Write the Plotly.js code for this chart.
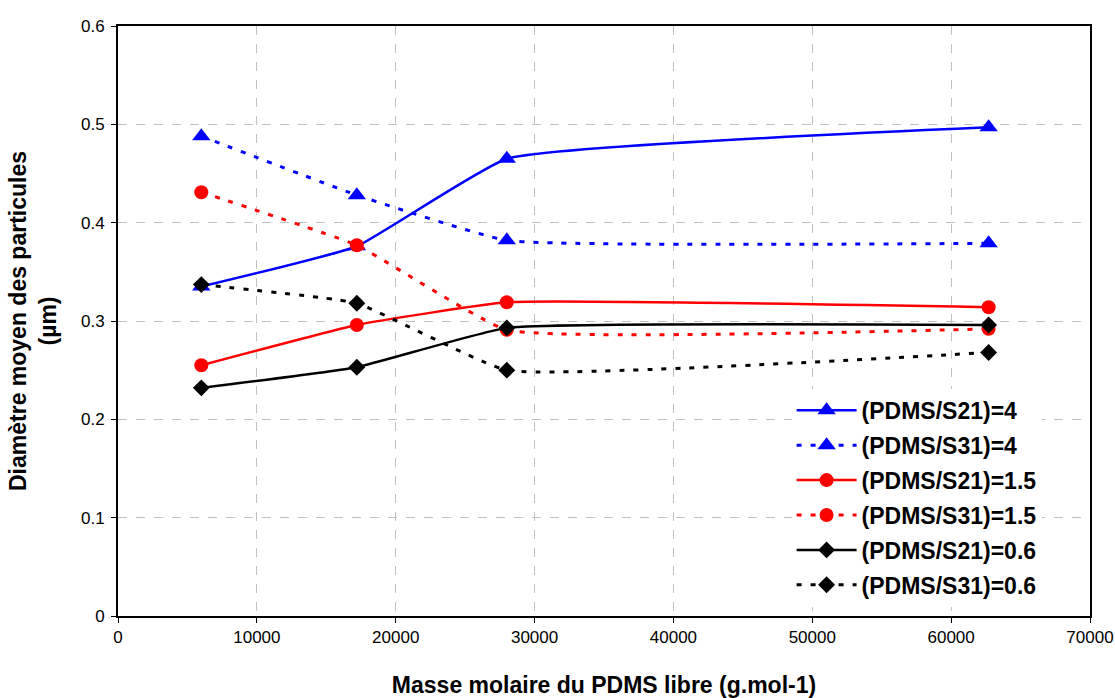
<!DOCTYPE html>
<html><head><meta charset="utf-8">
<script src="https://cdn.plot.ly/plotly-3.0.1.min.js"></script>
<style>body{margin:0;background:#fff}#c{width:1115px;height:698px}</style>
</head><body><div id="c"></div>
<script>
const masse = [6000, 17200, 28000, 62700];
const s21_4   = [0.335, 0.376, 0.465, 0.497];
const s31_4   = [0.488, 0.428, 0.382, 0.379];
const s21_15  = [0.255, 0.296, 0.319, 0.314];
const s31_15  = [0.431, 0.377, 0.291, 0.292];
const s21_06  = [0.232, 0.253, 0.293, 0.296];
const s31_06  = [0.337, 0.318, 0.250, 0.268];
const names = ["(PDMS/S21)=4","(PDMS/S31)=4","(PDMS/S21)=1.5","(PDMS/S31)=1.5","(PDMS/S21)=0.6","(PDMS/S31)=0.6"];
const series = [s21_4, s31_4, s21_15, s31_15, s21_06, s31_06];
const colors = ["#0000ff","#0000ff","#ff0000","#ff0000","#000000","#000000"];
const symbols = ["triangle-up","triangle-up","circle","circle","diamond","diamond"];
const sizes = [16,16,14,14,13,13];
const dashed = [false,true,false,true,false,true];

const traces = series.map((ys,i)=>({
  x: masse, y: ys, name: names[i], type:'scatter', mode:'lines+markers',
  legendgroup: 'g'+i,
  line:{color:colors[i], width: dashed[i]?3:2.5, shape:'spline', smoothing:0.35, dash: dashed[i]?'5px,9px':'solid'},
  marker:{color:colors[i], symbol:symbols[i], size:sizes[i]}
}));

const layout = {
  width:1115, height:698,
  margin:{l:118, r:25, t:26, b:82},
  paper_bgcolor:'#fff', plot_bgcolor:'#fff',
  font:{family:'Liberation Sans, Arial, sans-serif', color:'#000', size:17},
  showlegend:true,
  legend:{x:0.693, y:0.385, xanchor:'left', yanchor:'top', bgcolor:'#fff', borderwidth:0,
          traceorder:'grouped', tracegroupgap:2, itemwidth:60,
          font:{family:'Liberation Sans, Arial, sans-serif', size:23, weight:'bold', color:'#000'}},
  xaxis:{range:[0,70000], dtick:10000, tick0:0, showgrid:true, gridcolor:'#c0c0c0', griddash:'dash', gridwidth:1,
         showline:true, linecolor:'#000', linewidth:2, mirror:true, ticks:'outside', ticklen:5, tickcolor:'#000',
         zeroline:false, tickformat:'d',
         tickfont:{size:17},
         title:{text:'<b>Masse molaire du PDMS libre (g.mol-1)</b>', font:{size:23}, standoff:30}},
  yaxis:{range:[0,0.6], dtick:0.1, tick0:0, showgrid:true, gridcolor:'#c0c0c0', griddash:'dash', gridwidth:1,
         showline:true, linecolor:'#000', linewidth:2, mirror:true, ticks:'outside', ticklen:5, tickcolor:'#000',
         zeroline:false, tickformat:'.1~f', ticklabelstandoff:3,
         tickfont:{size:17},
         title:{text:'<b>Diamètre moyen des particules<br>(µm)</b>', font:{size:23}, standoff:18}}
};
Plotly.newPlot('c', traces, layout, {displayModeBar:false, staticPlot:true});
</script>
</body></html>
